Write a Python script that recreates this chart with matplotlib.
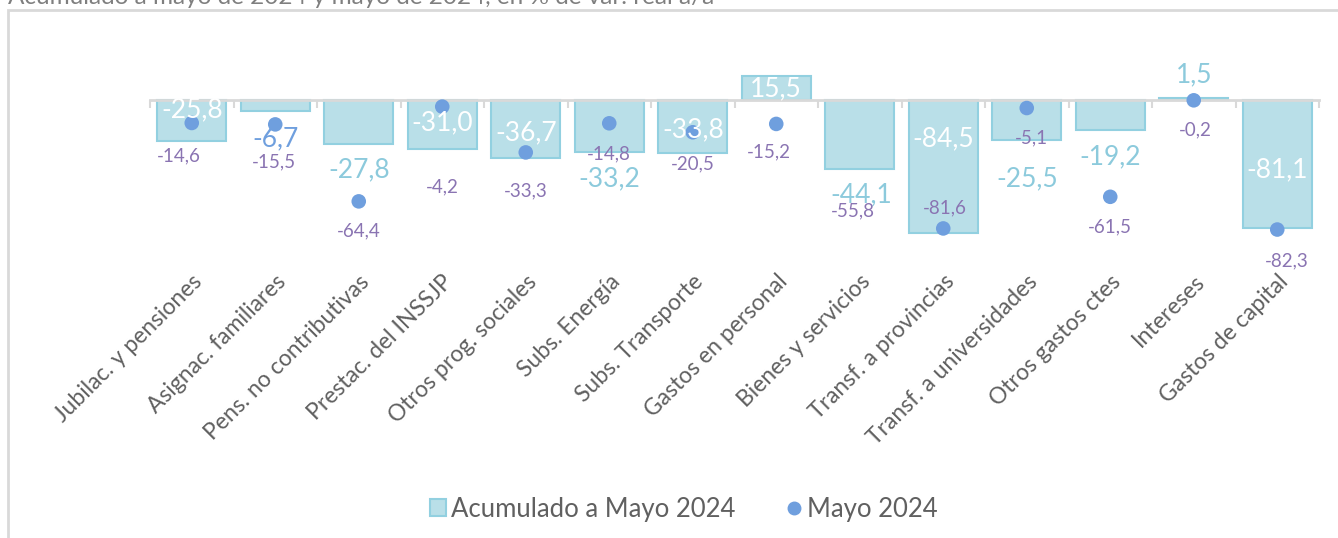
import matplotlib
matplotlib.use("Agg")
import matplotlib.pyplot as plt
from matplotlib.patches import Patch, Rectangle
from matplotlib.lines import Line2D
import numpy as np

plt.rcParams['font.family'] = ['Lato', 'DejaVu Sans']

# datos
categorias = ["Jubilac. y pensiones", "Asignac. familiares", "Pens. no contributivas",
              "Prestac. del INSSJP", "Otros prog. sociales", "Subs. Energía",
              "Subs. Transporte", "Gastos en personal", "Bienes y servicios",
              "Transf. a provincias", "Transf. a universidades", "Otros gastos ctes",
              "Intereses", "Gastos de capital"]
acumulado = [-25.8, -6.7, -27.8, -31.0, -36.7, -33.2, -33.8, 15.5, -44.1,
             -84.5, -25.5, -19.2, 1.5, -81.1]
mayo = [-14.6, -15.5, -64.4, -4.2, -33.3, -14.8, -20.5, -15.2, -55.8,
        -81.6, -5.1, -61.5, -0.2, -82.3]

# desplazamientos de etiquetas (pixeles) como en el original
off_barra = [(0, 31), (0, -28), (0, -26), (0, 26), (0, 25), (0, -27), (0, 23),
             (0, -13), (2, -25), (0, 94), (0, -39), (0, -27), (0, 23), (0, 58)]
dentro = [True, False, False, True, True, False, True, True, False, True,
          False, False, False, True]
off_punto = [(-13, -33), (-1, -37), (0, -30), (0, -80), (0, -38), (0, -31), (0, -32),
             (-7, -28), (-7, -23), (2, 21), (5, -30), (0, -30), (2, -30), (9, -31)]

C_BAR = "#b9dfe8"
C_EDGE = "#92d0e0"
C_DOT = "#6f9fde"
C_LBL = "#8a74b2"
C_OUT = "#8ccadc"
C_TXT = "#606060"

W, H = 1338, 538
fig = plt.figure(figsize=(W / 100, H / 100), dpi=100)

# marco gris
fig.patches.append(Rectangle((8 / W, -0.1), 1.2, 1.1 - 10 / H, transform=fig.transFigure,
                             fill=False, edgecolor="#d9d9d9", linewidth=2))
fig.text(8 / W, 1 - 4 / H, "Acumulado a mayo de 2024 y mayo de 2024, en % de var. real a/a",
         fontsize=17.5, color="#7f7f7f", va="baseline", ha="left")

ax = fig.add_axes([150 / W, 1 - 262 / H, 1169 / W, 222 / H])
x = np.arange(len(categorias))
ax.bar(x, acumulado, width=0.83, color=C_BAR, edgecolor=C_EDGE, linewidth=1.5, zorder=2)
ax.scatter(x, mayo, s=110, color=C_DOT, zorder=3, edgecolors="none")

ax.set_xlim(-0.5, len(categorias) - 0.5)
ax.set_ylim(-(262 - 100) / 1.574, (100 - 40) / 1.574)

for s in ["top", "right", "left"]:
    ax.spines[s].set_visible(False)
ax.spines["bottom"].set_position(("data", 0))
ax.spines["bottom"].set_color("#d9d9d9")
ax.spines["bottom"].set_linewidth(2)
ax.set_yticks([])
ax.set_xticks(np.arange(len(categorias) + 1) - 0.5)
ax.set_xticklabels([])
ax.tick_params(axis="x", which="major", length=6, width=1.5, color="#d9d9d9", direction="out")
ax.set_xticks(x, minor=True)
ax.set_xticklabels(categorias, minor=True, rotation=45, ha="right", rotation_mode="anchor",
                   fontsize=16.5, color=C_TXT)
ax.tick_params(axis="x", which="minor", length=0, pad=(271 - 100) * 0.72)

for i, v in enumerate(acumulado):
    ax.annotate(f"{v:.1f}".replace(".", ","), (x[i], v), xytext=off_barra[i],
                textcoords="offset pixels", ha="center", va="center", fontsize=19,
                color="white" if dentro[i] else (C_DOT if i == 1 else C_OUT), zorder=5,
                bbox=dict(fc="white", ec="none", pad=3) if i == 8 else None)

for i, v in enumerate(mayo):
    ax.annotate(f"{v:.1f}".replace(".", ","), (x[i], v), xytext=off_punto[i],
                textcoords="offset pixels", ha="center", va="center", fontsize=13.5,
                color=C_LBL, zorder=6)

handles = [Patch(facecolor=C_BAR, edgecolor=C_EDGE, linewidth=1.5, label="Acumulado a Mayo 2024"),
           Line2D([], [], marker="o", linestyle="none", markersize=9, color=C_DOT, label="Mayo 2024")]
fig.legend(handles=handles, loc="center", bbox_to_anchor=(684 / W, 1 - 509 / H), ncol=2,
           frameon=False, fontsize=18.5, labelcolor=C_TXT, handlelength=0.6, handletextpad=0.2,
           columnspacing=2.0, handleheight=0.6)

fig.savefig("out.png", dpi=100)
